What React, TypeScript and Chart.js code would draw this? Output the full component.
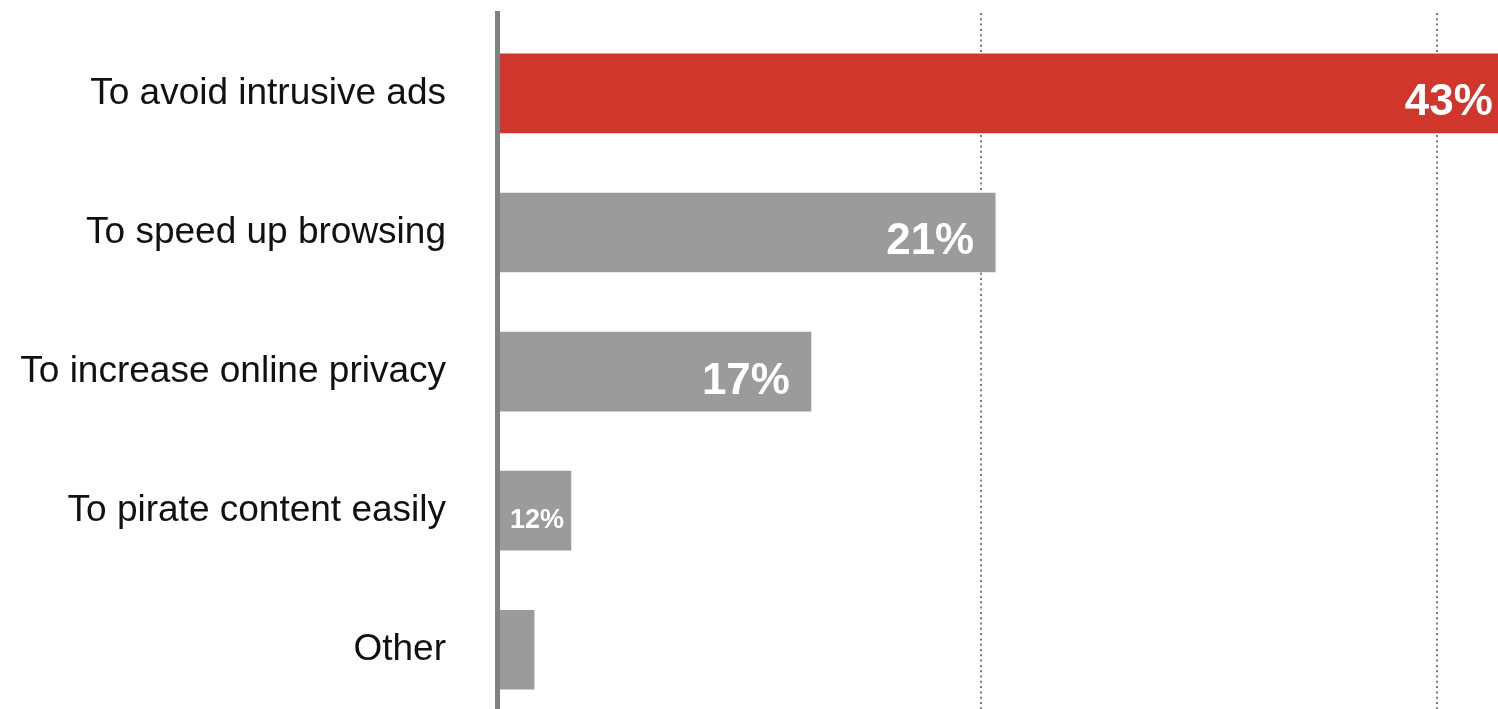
import React, { useEffect, useRef } from "react";
import { Chart, registerables } from "chart.js";

Chart.register(...registerables);

const categories = [
  "To avoid intrusive ads",
  "To speed up browsing",
  "To increase online privacy",
  "To pirate content easily",
  "Other",
];
// bar lengths as drawn in the picture (same units as the x axis)
const barValues = [44.7, 21.9, 13.8, 3.25, 1.63];
const valueLabels = ["43%", "21%", "17%", "12%", ""];
const gridValues = [21.26, 41.34];

const RED = "#d1362d";
const GREY = "#9b9b9b";

const labelPlugin = {
  id: "barLabels",
  afterDatasetsDraw(chart: any) {
    const ctx = chart.ctx;
    const meta = chart.getDatasetMeta(0);
    ctx.save();
    ctx.fillStyle = "#ffffff";
    ctx.textBaseline = "alphabetic";
    meta.data.forEach((el: any, i: number) => {
      const text = valueLabels[i];
      if (!text) return;
      const w = el.x - el.base;
      if (w < 120) {
        ctx.font = "bold 27px 'Liberation Sans', Arial, sans-serif";
        ctx.textAlign = "center";
        ctx.fillText(text, (el.base + el.x) / 2 + 3, el.y + 17);
      } else {
        ctx.font = "bold 44px 'Liberation Sans', Arial, sans-serif";
        ctx.textAlign = "right";
        ctx.fillText(text, el.x - 21, el.y + 22);
      }
    });
    ctx.restore();
  },
};

export default function App() {
  const ref = useRef<HTMLCanvasElement | null>(null);

  useEffect(() => {
    if (!ref.current) return;
    const chart = new Chart(ref.current, {
      type: "bar",
      data: {
        datasets: [
          {
            data: barValues.map((v, i) => ({ x: v, y: i })),
            backgroundColor: barValues.map((_, i) => (i === 0 ? RED : GREY)),
            barThickness: 79,
            borderWidth: 0,
          },
        ],
      },
      options: {
        indexAxis: "y",
        responsive: false,
        animation: false,
        devicePixelRatio: 1,
        layout: { padding: { top: 13, left: 0, right: 0, bottom: 0 } },
        plugins: {
          legend: { display: false },
          tooltip: { enabled: false },
        },
        scales: {
          x: {
            type: "linear",
            min: 0,
            max: 44,
            offset: false,
            afterBuildTicks: (scale: any) => {
              scale.ticks = gridValues.map((v) => ({ value: v }));
            },
            afterFit: (scale: any) => {
              scale.height = 0;
              scale.paddingLeft = 0;
              scale.paddingRight = 0;
            },
            ticks: { display: false },
            grid: {
              display: true,
              drawTicks: false,
              offset: false,
              color: "#7a7a7a",
              lineWidth: 2,
            },
            border: { display: false, dash: [2, 3.3] },
          },
          y: {
            type: "linear",
            reverse: true,
            offset: false,
            min: -0.578,
            max: 4.426,
            afterBuildTicks: (scale: any) => {
              scale.ticks = categories.map((_, i) => ({ value: i }));
            },
            afterFit: (scale: any) => {
              scale.width = 497;
              scale.paddingTop = 0;
              scale.paddingBottom = 0;
            },
            ticks: {
              padding: 0,
              color: "#111111",
              font: { family: "'Liberation Sans', Arial, sans-serif", size: 37 },
              callback: (v: any) => categories[Math.round(Number(v))] ?? "",
            },
            grid: { display: false, drawTicks: true, tickLength: 51, offset: false },
            border: { display: true, color: "#808080", width: 5, z: 1 },
          },
        },
      },
      plugins: [labelPlugin],
    } as any);
    return () => chart.destroy();
  }, []);

  return (
    <div style={{ position: "fixed", left: 0, top: 0, width: 1498, height: 709, background: "#fff" }}>
      <canvas ref={ref} width={1498} height={709} style={{ width: 1498, height: 709, display: "block" }} />
    </div>
  );
}
